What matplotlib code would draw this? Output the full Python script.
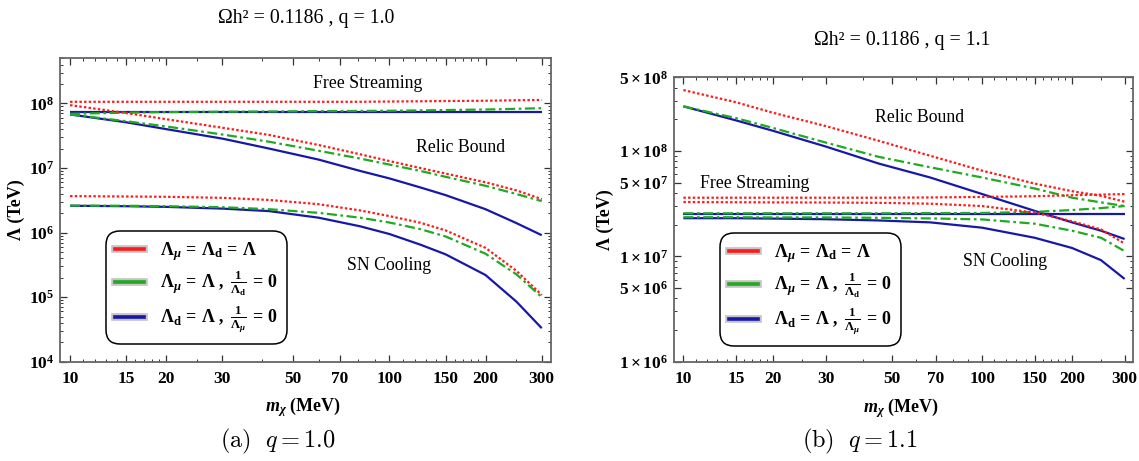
import numpy as np
import matplotlib
matplotlib.use("Agg")
import matplotlib.pyplot as plt
from matplotlib.lines import Line2D
import matplotlib.patheffects as pe

plt.rcParams['font.family'] = ['Liberation Serif', 'DejaVu Serif']
plt.rcParams['mathtext.fontset'] = 'custom'
plt.rcParams['mathtext.rm'] = 'Liberation Serif:bold'
plt.rcParams['mathtext.it'] = 'Liberation Serif:bold:italic'
plt.rcParams['mathtext.bf'] = 'Liberation Serif:bold'

# ---------------- data ----------------
# panel (a) q = 1.0
m_a = [10, 15, 20, 30, 42, 60, 81, 100, 125, 150, 200, 250, 300]
fs_red_a = [1.06e8, 1.06e8, 1.06e8, 1.06e8, 1.06e8, 1.06e8, 1.06e8, 1.07e8, 1.08e8, 1.09e8, 1.10e8, 1.12e8, 1.13e8]
fs_green_a = [6.9e7, 7.2e7, 7.35e7, 7.45e7, 7.5e7, 7.6e7, 7.65e7, 7.7e7, 7.8e7, 7.9e7, 8.05e7, 8.25e7, 8.45e7]
fs_blue_a = [7.4e7, 7.4e7, 7.4e7, 7.4e7, 7.4e7, 7.4e7, 7.4e7, 7.4e7, 7.4e7, 7.4e7, 7.4e7, 7.4e7, 7.4e7]
relic_red_a = [9.4e7, 7.1e7, 5.7e7, 4.2e7, 3.25e7, 2.27e7, 1.63e7, 1.28e7, 1.0e7, 8.2e6, 6.0e6, 4.5e6, 3.3e6]
relic_green_a = [6.75e7, 5.3e7, 4.4e7, 3.3e7, 2.55e7, 1.85e7, 1.4e7, 1.13e7, 9.0e6, 7.3e6, 5.3e6, 3.95e6, 3.07e6]
relic_blue_a = [6.75e7, 5.1e7, 4.0e7, 2.85e7, 2.0e7, 1.35e7, 9.0e6, 6.9e6, 5.0e6, 3.8e6, 2.3e6, 1.4e6, 9.1e5]
sn_red_a = [3.67e6, 3.62e6, 3.58e6, 3.45e6, 3.2e6, 2.75e6, 2.2e6, 1.8e6, 1.42e6, 1.08e6, 5.8e5, 2.55e5, 1.08e5]
sn_green_a = [2.62e6, 2.6e6, 2.56e6, 2.47e6, 2.3e6, 2.02e6, 1.7e6, 1.43e6, 1.13e6, 8.7e5, 4.7e5, 2.25e5, 1.0e5]
sn_blue_a = [2.6e6, 2.56e6, 2.5e6, 2.35e6, 2.15e6, 1.7e6, 1.25e6, 9.5e5, 6.5e5, 4.6e5, 2.2e5, 8.5e4, 3.3e4]

# panel (b) q = 1.1
m_b = [10, 15, 20, 30, 45, 67, 100, 150, 200, 250, 300]
relic_red_b = [3.78e8, 2.9e8, 2.3e8, 1.72e8, 1.25e8, 9.0e7, 6.5e7, 4.9e7, 4.15e7, 3.75e7, 3.3e7]
relic_green_b = [2.65e8, 2.05e8, 1.65e8, 1.2e8, 8.8e7, 7.0e7, 5.6e7, 4.4e7, 3.6e7, 3.25e7, 3.0e7]
relic_blue_b = [2.65e8, 1.95e8, 1.55e8, 1.1e8, 7.6e7, 5.6e7, 3.9e7, 2.7e7, 2.1e7, 1.75e7, 1.46e7]
fs_red_b = [3.6e7, 3.6e7, 3.6e7, 3.6e7, 3.6e7, 3.62e7, 3.66e7, 3.72e7, 3.8e7, 3.85e7, 3.9e7]
fs_green_b = [2.56e7, 2.56e7, 2.56e7, 2.56e7, 2.56e7, 2.57e7, 2.58e7, 2.64e7, 2.75e7, 2.87e7, 3.0e7]
fs_blue_b = [2.54e7, 2.54e7, 2.54e7, 2.54e7, 2.54e7, 2.54e7, 2.54e7, 2.54e7, 2.54e7, 2.54e7, 2.54e7]
sn_red_b = [3.27e7, 3.26e7, 3.25e7, 3.24e7, 3.22e7, 3.16e7, 3.0e7, 2.6e7, 2.15e7, 1.8e7, 1.32e7]
sn_green_b = [2.35e7, 2.35e7, 2.34e7, 2.34e7, 2.32e7, 2.29e7, 2.24e7, 2.04e7, 1.75e7, 1.5e7, 1.12e7]
sn_blue_b = [2.3e7, 2.3e7, 2.28e7, 2.25e7, 2.19e7, 2.1e7, 1.87e7, 1.5e7, 1.2e7, 9.2e6, 6.1e6]

x_major = [10, 15, 20, 30, 50, 70, 100, 150, 200, 300]
x_minor = [11, 12, 13, 14, 16, 17, 18, 19, 25, 40, 60, 80, 90,
           110, 120, 130, 140, 160, 170, 180, 190, 250]
yt_a = [1e4, 1e5, 1e6, 1e7, 1e8]
yl_a = [r'$10^{4}$', r'$10^{5}$', r'$10^{6}$', r'$10^{7}$', r'$10^{8}$']
yt_b = [1e6, 5e6, 1e7, 5e7, 1e8, 5e8]
yl_b = [r'$1\times10^{6}$', r'$5\times10^{6}$', r'$1\times10^{7}$',
        r'$5\times10^{7}$', r'$1\times10^{8}$', r'$5\times10^{8}$']
legend_labels = [r'$\Lambda_\mu\,=\,\Lambda_\mathrm{d}\,=\,\Lambda$',
                 r'$\Lambda_\mu\,=\,\Lambda\ ,\ \frac{1}{\Lambda_\mathrm{d}}\,=\,0$',
                 r'$\Lambda_\mathrm{d}\,=\,\Lambda\ ,\ \frac{1}{\Lambda_\mu}\,=\,0$']

# ---------------- style ----------------
RED = '#ff1a1a'
GREEN = '#1faa1f'
BLUE = '#1818a8'
W, H = 1139, 461
LW = 1.6
dot = (0, (1.1, 1.0))
dashdot = (0, (4.5, 1.6, 1.2, 1.6))

fig = plt.figure(figsize=(W / 100, H / 100), dpi=100)


def fx(px):
    return px / W


def fy(py):
    return 1 - py / H


def ax_rect(x0, y0, x1, y1):
    return [fx(x0), fy(y1), (x1 - x0) / W, (y1 - y0) / H]


ax1 = fig.add_axes(ax_rect(60, 58.3, 550.7, 361.7))
ax2 = fig.add_axes(ax_rect(674, 77.3, 1133, 361.7))


def draw(ax, m, reds, greens, blues):
    for y in blues:
        ax.plot(m, y, color=BLUE, lw=LW, solid_capstyle='butt')
    for y in greens:
        ax.plot(m, y, color=GREEN, lw=LW, linestyle=dashdot, dash_capstyle='butt')
    for y in reds:
        ax.plot(m, y, color=RED, lw=LW, linestyle=dot, dash_capstyle='butt')


draw(ax1, m_a, [fs_red_a, relic_red_a, sn_red_a],
     [fs_green_a, relic_green_a, sn_green_a],
     [fs_blue_a, relic_blue_a, sn_blue_a])
draw(ax2, m_b, [fs_red_b, relic_red_b, sn_red_b],
     [fs_green_b, relic_green_b, sn_green_b],
     [fs_blue_b, relic_blue_b, sn_blue_b])


def style(ax, ylim, yt, yl):
    ax.set_xscale('log')
    ax.set_yscale('log')
    ax.set_xlim(9.3, 320)
    ax.set_ylim(*ylim)
    ax.set_xticks(x_major)
    ax.set_xticklabels([str(v) for v in x_major], fontweight='bold', fontsize=12.5)
    ax.set_xticks(x_minor, minor=True)
    ax.set_xticklabels([], minor=True)
    ax.set_yticks(yt)
    ax.set_yticklabels(yl, fontsize=12.5)
    ax.tick_params(which='both', direction='in', top=True, right=True, color='#333333')
    ax.tick_params(which='major', length=5, width=0.9, pad=7)
    ax.tick_params(which='minor', length=2.5, width=0.7)
    ax.tick_params(axis='y', pad=4)
    for s in ax.spines.values():
        s.set_color('#666666')
        s.set_linewidth(1.3)


style(ax1, (1e4, 5e8), yt_a, yl_a)
style(ax2, (1e6, 5e8), yt_b, yl_b)

# axis labels
fig.text(fx(303), fy(407), r'$m_\chi$ (MeV)', ha='center', va='center', fontsize=13, fontweight='bold')
fig.text(fx(901), fy(408), r'$m_\chi$ (MeV)', ha='center', va='center', fontsize=13, fontweight='bold')
fig.text(fx(16), fy(210), 'Λ (TeV)', ha='center', va='center', rotation=90, fontsize=13, fontweight='bold')
fig.text(fx(605), fy(220), 'Λ (TeV)', ha='center', va='center', rotation=90, fontsize=13, fontweight='bold')

# titles
fig.text(fx(306), fy(18), 'Ωh² = 0.1186 , q = 1.0', ha='center', va='center', fontsize=14.3,
         family='Liberation Serif')
fig.text(fx(902), fy(40), 'Ωh² = 0.1186 , q = 1.1', ha='center', va='center', fontsize=14.3,
         family='Liberation Serif')

# captions
fig.text(fx(278), fy(441), r'$\mathrm{(a)}\ \ q = 1.0$', ha='center', va='center', fontsize=17.5,
         math_fontfamily='cm')
fig.text(fx(860), fy(441), r'$\mathrm{(b)}\ \ q = 1.1$', ha='center', va='center', fontsize=17.5,
         math_fontfamily='cm')

# region annotations
ann = dict(ha='center', va='center', fontsize=12.8, family='Liberation Serif')
fig.text(fx(368), fy(83), 'Free Streaming', **ann)
fig.text(fx(461), fy(147), 'Relic Bound', **ann)
fig.text(fx(389), fy(265), 'SN Cooling', **ann)
fig.text(fx(920), fy(118), 'Relic Bound', **ann)
fig.text(fx(755), fy(183), 'Free Streaming', **ann)
fig.text(fx(1005), fy(262), 'SN Cooling', **ann)

# legends
def handles():
    out = []
    for c in (RED, GREEN, BLUE):
        out.append(Line2D([], [], color=c, lw=2.6,
                          path_effects=[pe.Stroke(linewidth=5.5, foreground='#a09aa0', alpha=0.6),
                                        pe.Normal()]))
    return out


for ax, (x0, y0) in ((ax1, (106, 231)), (ax2, (720, 233))):
    leg = ax.legend(handles(), legend_labels, loc='upper left',
                    bbox_to_anchor=(fx(x0), fy(y0)), bbox_transform=fig.transFigure,
                    fontsize=13, frameon=True, fancybox=True, handlelength=1.6,
                    handletextpad=0.9, labelspacing=0.3, borderpad=0.5,
                    borderaxespad=0.0)
    fr = leg.get_frame()
    fr.set_edgecolor('black')
    fr.set_linewidth(1.1)
    fr.set_alpha(1)
    fr.set_boxstyle('round', pad=0, rounding_size=0.8)

fig.savefig('out.png', dpi=100)
